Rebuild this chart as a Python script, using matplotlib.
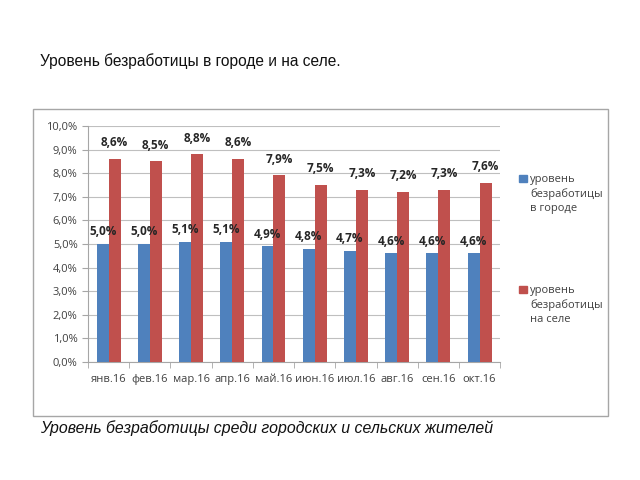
import matplotlib.pyplot as plt
import numpy as np
from matplotlib.patches import Rectangle
from matplotlib.ticker import FuncFormatter, FixedLocator

plt.rcParams['font.family'] = ['Open Sans', 'DejaVu Sans']

# Data
months = ['янв.16', 'фев.16', 'мар.16', 'апр.16', 'май.16',
          'июн.16', 'июл.16', 'авг.16', 'сен.16', 'окт.16']
city = [5.0, 5.0, 5.1, 5.1, 4.9, 4.8, 4.7, 4.6, 4.6, 4.6]
village = [8.6, 8.5, 8.8, 8.6, 7.9, 7.5, 7.3, 7.2, 7.3, 7.6]
city_label = 'уровень\nбезработицы\nв городе'
village_label = 'уровень\nбезработицы\nна селе'

blue = '#4F81BD'
red = '#C0504D'

fig = plt.figure(figsize=(6.4, 4.8), dpi=100)

# chart frame
fig.patches.append(Rectangle((0.052, 0.133), 0.898, 0.640, transform=fig.transFigure,
                             fill=False, edgecolor='#a6a6a6', linewidth=1.0))

fig.text(0.062, 0.873, 'Уровень безработицы в городе и на селе.',
         fontsize=11.2, va='center', ha='left', color='#111111', family='Liberation Sans')
fig.text(0.062, 0.108, 'Уровень безработицы среди городских и сельских жителей',
         fontsize=11.4, va='center', ha='left', style='italic', color='#111111',
         family='Liberation Sans')

ax = fig.add_axes([0.1375, 0.246, 0.644, 0.4917])
x = np.arange(len(months))
w = 0.29
b1 = ax.bar(x - w / 2, city, w, color=blue, zorder=3)
b2 = ax.bar(x + w / 2, village, w, color=red, zorder=3)

for rect, v in zip(b1, city):
    ax.annotate(f'{v:.1f}%'.replace('.', ','), (rect.get_x() + rect.get_width() / 2, v),
                xytext=(0, 4), textcoords='offset points', ha='center', va='bottom',
                fontsize=8.5, fontweight='bold', color='#262626', zorder=4)
for rect, v in zip(b2, village):
    ax.annotate(f'{v:.1f}%'.replace('.', ','), (rect.get_x() + rect.get_width() / 2, v),
                xytext=(0, 7), textcoords='offset points', ha='center', va='bottom',
                fontsize=8.5, fontweight='bold', color='#262626', zorder=4)

ax.set_ylim(0, 10)
ax.set_xlim(-0.5, len(months) - 0.5)
ax.set_yticks(np.arange(0, 11, 1))
ax.yaxis.set_major_formatter(FuncFormatter(lambda v, p: f'{v:.1f}%'.replace('.', ',')))
ax.set_xticks(x)
ax.set_xticklabels(months)
ax.xaxis.set_minor_locator(FixedLocator(np.arange(-0.5, len(months), 1)))
ax.tick_params(axis='x', which='major', length=0, pad=9, labelsize=8, labelcolor='#404040')
ax.tick_params(axis='x', which='minor', length=4, color='#a6a6a6')
ax.tick_params(axis='y', length=4, color='#a6a6a6', labelsize=8, labelcolor='#404040')
ax.grid(axis='y', color='#bfbfbf', linewidth=0.8, zorder=0)
for s in ['top', 'right']:
    ax.spines[s].set_visible(False)
for s in ['left', 'bottom']:
    ax.spines[s].set_color('#a6a6a6')

# legend: square next to the first line of each entry
for ytop, col, lab in [(0.637, blue, city_label), (0.406, red, village_label)]:
    fig.patches.append(Rectangle((0.8115, ytop - 0.0165), 0.0115, 0.0155,
                                 transform=fig.transFigure, color=col))
    fig.text(0.828, ytop, lab, fontsize=8, va='top', ha='left', color='#404040',
             linespacing=1.35)

fig.savefig('out.png', dpi=100)
